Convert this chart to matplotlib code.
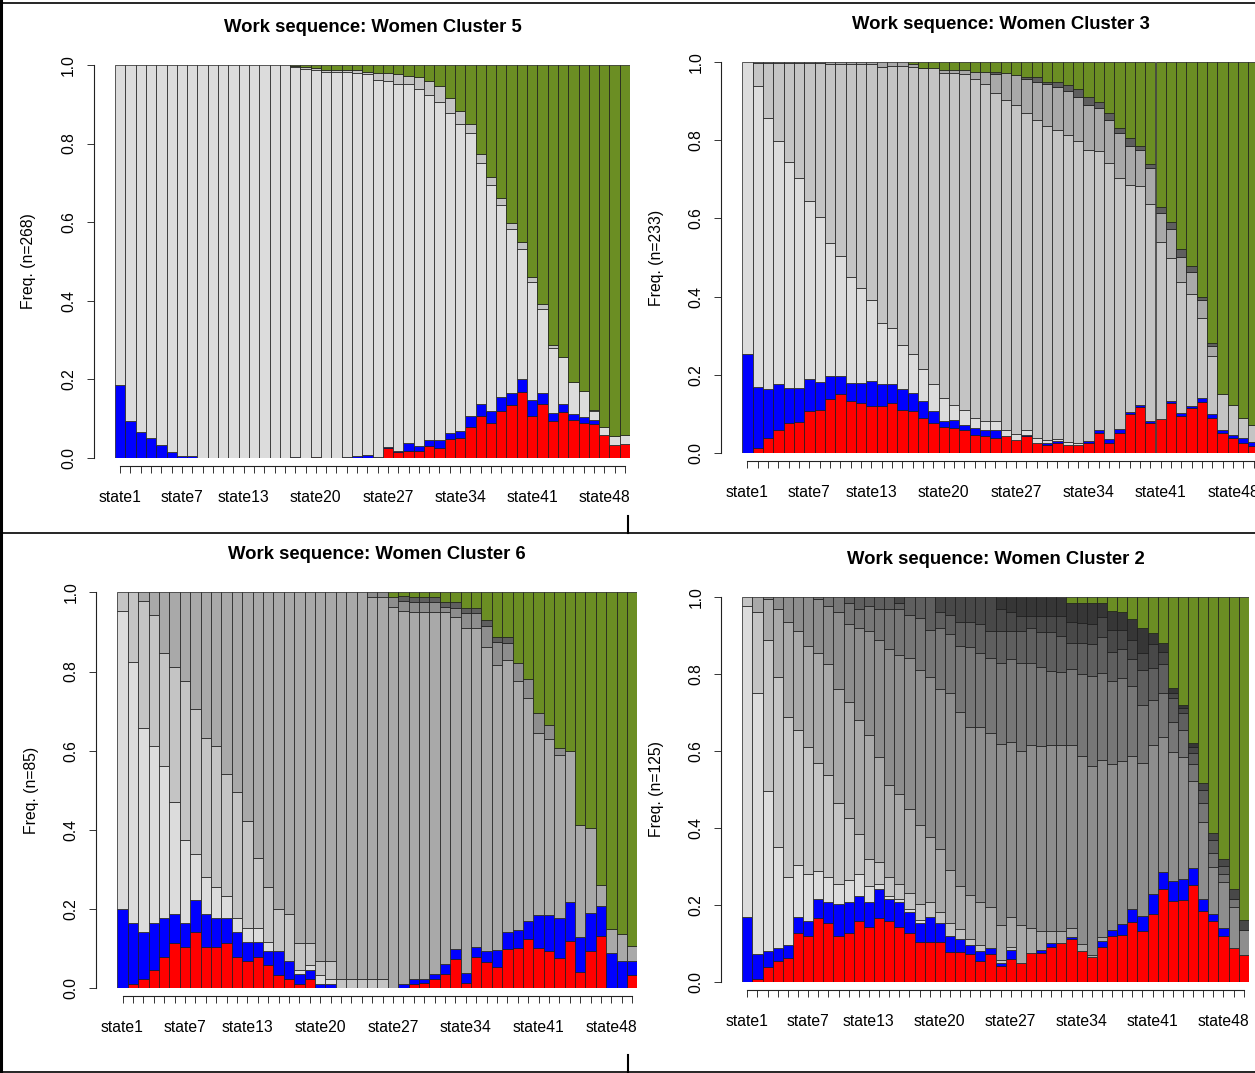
import matplotlib
matplotlib.use("Agg")
import matplotlib.pyplot as plt
import numpy as np
from matplotlib.lines import Line2D

plt.rcParams['font.family'] = ['Liberation Sans', 'DejaVu Sans']

# ---------------- data ----------------
# x categories
states = ["state%d" % i for i in range(1, 51)]
shown_labels = ["state1", "state7", "state13", "state20", "state27", "state34", "state41", "state48"]
y_ticks = [0.0, 0.2, 0.4, 0.6, 0.8, 1.0]
y_tick_labels = ["0.0", "0.2", "0.4", "0.6", "0.8", "1.0"]

# Each list = cumulative share at the TOP of that state's segment (stack order bottom->top)
# ---- Cluster 5 (n=268)
c5_red = [0, 0, 0, 0, 0, 0, 0, 0, 0, 0,
          0, 0, 0, 0, 0, 0, 0, 0, 0, 0.003,
          0, 0, 0, 0, 0, 0, 0.025, 0.015, 0.017, 0.017,
          0.030, 0.026, 0.048, 0.052, 0.080, 0.107, 0.090, 0.120, 0.135, 0.169,
          0.108, 0.137, 0.094, 0.118, 0.097, 0.088, 0.086, 0.059, 0.033, 0.035]
c5_blue = [0.186, 0.094, 0.067, 0.052, 0.033, 0.014, 0.004, 0.004, 0, 0,
           0, 0, 0, 0, 0, 0, 0, 0.003, 0, 0.003,
           0, 0, 0.003, 0.006, 0.008, 0.003, 0.029, 0.019, 0.037, 0.030,
           0.046, 0.046, 0.063, 0.069, 0.108, 0.137, 0.120, 0.154, 0.165, 0.202,
           0.148, 0.166, 0.115, 0.137, 0.111, 0.105, 0.097, 0.059, 0.033, 0.035]
c5_g1 = [1.0, 1.0, 1.0, 1.0, 1.0, 1.0, 1.0, 1.0, 1.0, 1.0,
         1.0, 1.0, 1.0, 1.0, 1.0, 1.0, 1.0, 0.995, 0.990, 0.988,
         0.983, 0.983, 0.983, 0.979, 0.978, 0.962, 0.959, 0.951, 0.951, 0.938,
         0.924, 0.905, 0.877, 0.850, 0.826, 0.750, 0.695, 0.645, 0.582, 0.533,
         0.447, 0.378, 0.281, 0.256, 0.193, 0.170, 0.120, 0.080, 0.056, 0.059]
c5_g2 = [1.0, 1.0, 1.0, 1.0, 1.0, 1.0, 1.0, 1.0, 1.0, 1.0,
         1.0, 1.0, 1.0, 1.0, 1.0, 1.0, 1.0, 0.997, 0.995, 0.992,
         0.988, 0.988, 0.988, 0.987, 0.983, 0.980, 0.980, 0.976, 0.973, 0.970,
         0.959, 0.947, 0.917, 0.884, 0.850, 0.774, 0.714, 0.662, 0.599, 0.549,
         0.461, 0.391, 0.288, 0.256, 0.193, 0.170, 0.122, 0.080, 0.056, 0.059]
c5_green = [1.0] * 50

# ---- Cluster 3 (n=233)
c3_red = [0, 0.014, 0.038, 0.060, 0.077, 0.081, 0.108, 0.111, 0.138, 0.151,
          0.134, 0.128, 0.121, 0.121, 0.128, 0.111, 0.108, 0.089, 0.077, 0.068,
          0.064, 0.060, 0.047, 0.043, 0.038, 0.043, 0.034, 0.043, 0.027, 0.021,
          0.026, 0.020, 0.020, 0.026, 0.053, 0.026, 0.053, 0.100, 0.117, 0.077,
          0.088, 0.129, 0.095, 0.115, 0.130, 0.089, 0.053, 0.038, 0.027, 0.019]
c3_blue = [0.253, 0.170, 0.163, 0.176, 0.166, 0.166, 0.189, 0.183, 0.197, 0.197,
           0.180, 0.180, 0.185, 0.176, 0.176, 0.163, 0.155, 0.134, 0.108, 0.083,
           0.085, 0.072, 0.064, 0.060, 0.060, 0.043, 0.034, 0.047, 0.027, 0.026,
           0.032, 0.020, 0.020, 0.031, 0.060, 0.036, 0.062, 0.105, 0.123, 0.083,
           0.088, 0.134, 0.102, 0.122, 0.140, 0.100, 0.060, 0.047, 0.038, 0.030]
c3_g1 = [1.0, 0.939, 0.855, 0.797, 0.745, 0.702, 0.645, 0.603, 0.536, 0.504,
         0.451, 0.421, 0.391, 0.334, 0.319, 0.277, 0.253, 0.214, 0.176, 0.140,
         0.123, 0.111, 0.089, 0.083, 0.083, 0.060, 0.049, 0.060, 0.038, 0.034,
         0.036, 0.030, 0.027, 0.031, 0.060, 0.036, 0.062, 0.105, 0.123, 0.083,
         0.088, 0.134, 0.102, 0.122, 0.140, 0.100, 0.060, 0.047, 0.038, 0.030]
c3_g2 = [1.0, 0.997, 0.997, 0.997, 0.997, 0.997, 0.997, 0.997, 0.994, 0.994,
         0.994, 0.994, 0.994, 0.987, 0.989, 0.989, 0.987, 0.983, 0.984, 0.972,
         0.972, 0.968, 0.957, 0.942, 0.919, 0.902, 0.889, 0.868, 0.851, 0.837,
         0.826, 0.813, 0.798, 0.774, 0.772, 0.742, 0.702, 0.685, 0.683, 0.637,
         0.540, 0.500, 0.438, 0.406, 0.345, 0.249, 0.151, 0.123, 0.089, 0.071]
c3_g3 = [1.0, 1.0, 1.0, 1.0, 1.0, 1.0, 1.0, 1.0, 1.0, 1.0,
         1.0, 1.0, 1.0, 1.0, 1.0, 1.0, 0.995, 0.985, 0.984, 0.980,
         0.980, 0.979, 0.974, 0.974, 0.968, 0.970, 0.966, 0.955, 0.949, 0.942,
         0.936, 0.926, 0.911, 0.889, 0.881, 0.851, 0.819, 0.785, 0.774, 0.728,
         0.613, 0.572, 0.502, 0.464, 0.391, 0.274, 0.151, 0.123, 0.089, 0.071]
c3_g5 = [1.0, 1.0, 1.0, 1.0, 1.0, 1.0, 1.0, 1.0, 1.0, 1.0,
         1.0, 1.0, 1.0, 1.0, 1.0, 1.0, 0.995, 0.985, 0.984, 0.980,
         0.980, 0.979, 0.974, 0.974, 0.973, 0.970, 0.966, 0.960, 0.960, 0.949,
         0.947, 0.940, 0.930, 0.911, 0.898, 0.870, 0.831, 0.806, 0.785, 0.740,
         0.628, 0.591, 0.521, 0.478, 0.398, 0.281, 0.151, 0.123, 0.089, 0.071]
c3_green = [1.0] * 50

# ---- Cluster 6 (n=85)
c6_red = [0, 0.010, 0.023, 0.045, 0.080, 0.115, 0.105, 0.141, 0.105, 0.105,
          0.115, 0.080, 0.069, 0.080, 0.059, 0.034, 0.023, 0.010, 0.023, 0,
          0, 0, 0, 0, 0, 0, 0, 0, 0.010, 0.013,
          0.023, 0.035, 0.073, 0.013, 0.078, 0.067, 0.055, 0.098, 0.103, 0.124,
          0.101, 0.093, 0.077, 0.120, 0.042, 0.094, 0.132, 0, 0, 0.034]
c6_blue = [0.200, 0.164, 0.141, 0.164, 0.177, 0.187, 0.164, 0.223, 0.187, 0.177,
           0.177, 0.141, 0.116, 0.116, 0.094, 0.094, 0.069, 0.035, 0.045, 0.010,
           0.010, 0, 0, 0, 0, 0, 0, 0.010, 0.023, 0.023,
           0.035, 0.061, 0.099, 0.038, 0.105, 0.095, 0.097, 0.143, 0.147, 0.170,
           0.185, 0.185, 0.177, 0.219, 0.129, 0.189, 0.209, 0.090, 0.069, 0.069]
c6_g1 = [0.953, 0.823, 0.658, 0.612, 0.562, 0.470, 0.375, 0.339, 0.282, 0.257,
         0.233, 0.177, 0.152, 0.152, 0.116, 0.094, 0.069, 0.045, 0.059, 0.034,
         0.023, 0, 0, 0, 0, 0, 0, 0.010, 0.023, 0.023,
         0.035, 0.061, 0.099, 0.038, 0.105, 0.095, 0.097, 0.143, 0.147, 0.170,
         0.185, 0.185, 0.177, 0.219, 0.129, 0.189, 0.209, 0.090, 0.069, 0.069]
c6_g2 = [1.0, 1.0, 0.978, 0.943, 0.846, 0.812, 0.776, 0.705, 0.633, 0.612,
         0.541, 0.495, 0.423, 0.328, 0.257, 0.200, 0.187, 0.115, 0.115, 0.069,
         0.069, 0.023, 0.023, 0.023, 0.023, 0.023, 0, 0.010, 0.023, 0.023,
         0.035, 0.061, 0.099, 0.038, 0.105, 0.095, 0.097, 0.143, 0.147, 0.170,
         0.185, 0.185, 0.177, 0.219, 0.129, 0.189, 0.209, 0.090, 0.069, 0.069]
c6_g3 = [1.0, 1.0, 1.0, 1.0, 1.0, 1.0, 1.0, 1.0, 1.0, 1.0,
         1.0, 1.0, 1.0, 1.0, 1.0, 1.0, 1.0, 1.0, 1.0, 1.0,
         1.0, 1.0, 1.0, 1.0, 0.989, 0.989, 0.964, 0.953, 0.951, 0.951,
         0.951, 0.951, 0.937, 0.909, 0.909, 0.861, 0.816, 0.829, 0.776, 0.734,
         0.644, 0.629, 0.588, 0.599, 0.412, 0.404, 0.261, 0.149, 0.136, 0.107]
c6_g4 = [1.0, 1.0, 1.0, 1.0, 1.0, 1.0, 1.0, 1.0, 1.0, 1.0,
         1.0, 1.0, 1.0, 1.0, 1.0, 1.0, 1.0, 1.0, 1.0, 1.0,
         1.0, 1.0, 1.0, 1.0, 1.0, 1.0, 0.988, 0.978, 0.976, 0.975,
         0.975, 0.964, 0.961, 0.947, 0.947, 0.916, 0.874, 0.871, 0.821, 0.781,
         0.694, 0.665, 0.608, 0.599, 0.412, 0.404, 0.261, 0.149, 0.136, 0.107]
c6_g5 = [1.0, 1.0, 1.0, 1.0, 1.0, 1.0, 1.0, 1.0, 1.0, 1.0,
         1.0, 1.0, 1.0, 1.0, 1.0, 1.0, 1.0, 1.0, 1.0, 1.0,
         1.0, 1.0, 1.0, 1.0, 1.0, 1.0, 0.988, 0.990, 0.987, 0.987,
         0.988, 0.975, 0.975, 0.960, 0.960, 0.930, 0.888, 0.886, 0.821, 0.781,
         0.694, 0.665, 0.608, 0.599, 0.412, 0.404, 0.261, 0.149, 0.136, 0.107]
c6_green = [1.0] * 50

# ---- Cluster 2 (n=125)
c2_red = [0, 0.006, 0.039, 0.055, 0.062, 0.127, 0.119, 0.166, 0.152, 0.119,
          0.127, 0.158, 0.143, 0.166, 0.158, 0.143, 0.127, 0.104, 0.104, 0.104,
          0.078, 0.078, 0.071, 0.055, 0.071, 0.041, 0.058, 0.048, 0.074, 0.074,
          0.091, 0.100, 0.111, 0.080, 0.065, 0.091, 0.119, 0.121, 0.154, 0.132,
          0.176, 0.241, 0.210, 0.212, 0.252, 0.184, 0.158, 0.119, 0.087, 0.069]
c2_blue = [0.167, 0.071, 0.080, 0.087, 0.095, 0.167, 0.158, 0.214, 0.208, 0.201,
           0.208, 0.223, 0.208, 0.240, 0.214, 0.208, 0.182, 0.152, 0.167, 0.152,
           0.119, 0.111, 0.095, 0.080, 0.087, 0.048, 0.082, 0.048, 0.074, 0.082,
           0.100, 0.100, 0.117, 0.080, 0.065, 0.106, 0.134, 0.149, 0.190, 0.171,
           0.228, 0.286, 0.261, 0.266, 0.296, 0.214, 0.175, 0.139, 0.087, 0.069]
c2_g1 = [0.976, 0.751, 0.496, 0.351, 0.271, 0.303, 0.280, 0.287, 0.271, 0.255,
         0.264, 0.280, 0.248, 0.255, 0.223, 0.216, 0.190, 0.160, 0.167, 0.152,
         0.119, 0.111, 0.095, 0.080, 0.087, 0.048, 0.082, 0.048, 0.074, 0.082,
         0.100, 0.100, 0.117, 0.080, 0.065, 0.106, 0.134, 0.149, 0.190, 0.171,
         0.228, 0.286, 0.261, 0.266, 0.296, 0.214, 0.175, 0.139, 0.087, 0.069]
c2_g2 = [1.0, 0.961, 0.887, 0.792, 0.688, 0.655, 0.609, 0.567, 0.537, 0.463,
         0.424, 0.383, 0.320, 0.312, 0.271, 0.255, 0.231, 0.201, 0.208, 0.182,
         0.152, 0.136, 0.111, 0.095, 0.087, 0.056, 0.089, 0.048, 0.074, 0.082,
         0.100, 0.100, 0.117, 0.080, 0.065, 0.106, 0.134, 0.149, 0.190, 0.171,
         0.228, 0.286, 0.261, 0.266, 0.296, 0.214, 0.175, 0.139, 0.087, 0.069]
c2_g3 = [1.0, 1.0, 0.993, 0.968, 0.935, 0.912, 0.873, 0.855, 0.825, 0.759,
         0.727, 0.680, 0.641, 0.584, 0.511, 0.487, 0.448, 0.407, 0.375, 0.344,
         0.290, 0.248, 0.225, 0.208, 0.193, 0.147, 0.169, 0.147, 0.139, 0.132,
         0.132, 0.132, 0.139, 0.097, 0.069, 0.117, 0.134, 0.149, 0.190, 0.171,
         0.228, 0.286, 0.261, 0.266, 0.296, 0.214, 0.175, 0.139, 0.087, 0.069]
c2_g4 = [1.0, 1.0, 1.0, 1.0, 1.0, 1.0, 1.0, 0.993, 0.976, 0.961,
         0.929, 0.920, 0.912, 0.887, 0.864, 0.848, 0.840, 0.810, 0.792, 0.759,
         0.749, 0.701, 0.661, 0.661, 0.645, 0.617, 0.623, 0.600, 0.615, 0.612,
         0.616, 0.615, 0.616, 0.587, 0.561, 0.576, 0.565, 0.573, 0.587, 0.567,
         0.615, 0.636, 0.597, 0.584, 0.521, 0.416, 0.297, 0.260, 0.195, 0.134]
c2_g5 = [1.0, 1.0, 1.0, 1.0, 1.0, 1.0, 1.0, 1.0, 1.0, 1.0,
         0.984, 0.968, 0.976, 0.968, 0.968, 0.968, 0.952, 0.944, 0.913, 0.920,
         0.903, 0.872, 0.870, 0.855, 0.840, 0.829, 0.837, 0.829, 0.829, 0.818,
         0.808, 0.805, 0.811, 0.798, 0.795, 0.803, 0.782, 0.788, 0.769, 0.719,
         0.732, 0.749, 0.675, 0.654, 0.565, 0.465, 0.333, 0.281, 0.216, 0.134]
c2_g6 = [1.0, 1.0, 1.0, 1.0, 1.0, 1.0, 1.0, 1.0, 1.0, 1.0,
         1.0, 1.0, 1.0, 1.0, 1.0, 0.984, 1.0, 1.0, 1.0, 0.961,
         0.952, 0.935, 0.935, 0.929, 0.912, 0.912, 0.912, 0.912, 0.918, 0.909,
         0.909, 0.899, 0.881, 0.879, 0.877, 0.896, 0.857, 0.864, 0.837, 0.810,
         0.814, 0.825, 0.736, 0.697, 0.593, 0.499, 0.368, 0.300, 0.216, 0.134]
c2_g7 = [1.0, 1.0, 1.0, 1.0, 1.0, 1.0, 1.0, 1.0, 1.0, 1.0,
         1.0, 1.0, 1.0, 1.0, 1.0, 1.0, 1.0, 1.0, 1.0, 1.0,
         1.0, 1.0, 1.0, 1.0, 1.0, 0.968, 0.959, 0.950, 0.950, 0.950,
         0.950, 0.950, 0.933, 0.931, 0.929, 0.946, 0.913, 0.913, 0.887, 0.853,
         0.876, 0.857, 0.749, 0.710, 0.610, 0.517, 0.385, 0.320, 0.240, 0.160]
c2_g8 = [1.0, 1.0, 1.0, 1.0, 1.0, 1.0, 1.0, 1.0, 1.0, 1.0,
         1.0, 1.0, 1.0, 1.0, 1.0, 1.0, 1.0, 1.0, 1.0, 1.0,
         1.0, 1.0, 1.0, 1.0, 1.0, 1.0, 1.0, 1.0, 1.0, 1.0,
         1.0, 1.0, 0.983, 0.983, 0.983, 0.983, 0.964, 0.961, 0.942, 0.920,
         0.906, 0.879, 0.764, 0.720, 0.619, 0.517, 0.385, 0.320, 0.240, 0.160]
c2_green = [1.0] * 50

# ---------------- styling ----------------
RED, BLUE, GREEN = "#FF0000", "#0000FF", "#6B8E23"
G1, G2, G3, G4, G5, G6, G7, G8 = ("#DCDCDC", "#C4C4C4", "#A9A9A9", "#8E8E8E",
                                  "#777777", "#5F5F5F", "#484848", "#363636")

W, H = 1255, 1073
fig = plt.figure(figsize=(W / 100, H / 100), dpi=100)

panels = [
    dict(title="Work sequence: Women Cluster 5", ylabel="Freq. (n=268)",
         box=(115.0, 630.0, 65.0, 458.0),
         layers=[(c5_red, RED), (c5_blue, BLUE), (c5_g1, G1), (c5_g2, G2), (c5_green, GREEN)]),
    dict(title="Work sequence: Women Cluster 3", ylabel="Freq. (n=233)",
         box=(742.3, 1258.8, 61.7, 453.3),
         layers=[(c3_red, RED), (c3_blue, BLUE), (c3_g1, G1), (c3_g2, G2), (c3_g3, G3),
                 (c3_g5, G6), (c3_green, GREEN)]),
    dict(title="Work sequence: Women Cluster 6", ylabel="Freq. (n=85)",
         box=(117.3, 637.3, 592.3, 988.3),
         layers=[(c6_red, RED), (c6_blue, BLUE), (c6_g1, G1), (c6_g2, G2), (c6_g3, G3),
                 (c6_g4, G4), (c6_g5, G6), (c6_green, GREEN)]),
    dict(title="Work sequence: Women Cluster 2", ylabel="Freq. (n=125)",
         box=(742.3, 1248.8, 596.7, 981.7),
         layers=[(c2_red, RED), (c2_blue, BLUE), (c2_g1, G1), (c2_g2, G2), (c2_g3, G3),
                 (c2_g4, G4), (c2_g5, G5), (c2_g6, G6), (c2_g7, G7), (c2_g8, G8),
                 (c2_green, GREEN)]),
]

x = np.arange(len(states))
xticklabels = [s if s in shown_labels else "" for s in states]

for p in panels:
    x0, x1, yt, yb = p["box"]
    ax = fig.add_axes([x0 / W, 1 - yb / H, (x1 - x0) / W, (yb - yt) / H])
    ax.set_facecolor("none")
    bottom = np.zeros(len(states))
    for top, col in p["layers"]:
        top = np.maximum(np.asarray(top, dtype=float), bottom)
        h = top - bottom
        m = h > 1e-9
        ax.bar(x[m], h[m], bottom=bottom[m], width=1.0, color=col,
               edgecolor="#1a1a1a", linewidth=0.5)
        bottom = top
    ax.set_xlim(-0.5, len(states) - 0.5)
    ax.set_ylim(0, 1)
    for s in ("top", "right"):
        ax.spines[s].set_visible(False)
    ax.spines["left"].set_position(("outward", 15))
    ax.spines["left"].set_bounds(0, 1)
    ax.spines["bottom"].set_position(("outward", 5.8))
    ax.spines["bottom"].set_bounds(0, len(states) - 1)
    for s in ("left", "bottom"):
        ax.spines[s].set_linewidth(0.8)
        ax.spines[s].set_color("#222222")
    ax.set_yticks(y_ticks)
    ax.set_yticklabels(y_tick_labels, rotation=90, va="center")
    ax.set_xticks(x)
    ax.set_xticklabels(xticklabels)
    ax.tick_params(axis="both", length=5, width=0.7, color="#333333",
                   labelsize=11.3, labelcolor="black")
    ax.tick_params(axis="y", pad=8)
    ax.tick_params(axis="x", pad=12.3)
    ax.text(-86.0 / (x1 - x0), 0.5, p["ylabel"], rotation=90, ha="center", va="center",
            fontsize=11.3, transform=ax.transAxes)
    ax.text(0.5, 1.096, p["title"], ha="center", va="center", fontsize=13.3,
            fontweight="bold", transform=ax.transAxes)

# frame lines of the composite layout
def hline(ypx, lw=1.2):
    fig.add_artist(Line2D([0, 1], [1 - ypx / H] * 2, color="black", lw=lw,
                          transform=fig.transFigure))

def vline(xpx, y0px, y1px, lw=1.5):
    fig.add_artist(Line2D([xpx / W] * 2, [1 - y0px / H, 1 - y1px / H], color="black",
                          lw=lw, transform=fig.transFigure))

hline(2.5)
hline(533)
hline(1071.5)
vline(1.2, 0, H, lw=2.2)
vline(628, 516, 533)
vline(628, 1055, 1073)

fig.savefig("out.png", dpi=100)
